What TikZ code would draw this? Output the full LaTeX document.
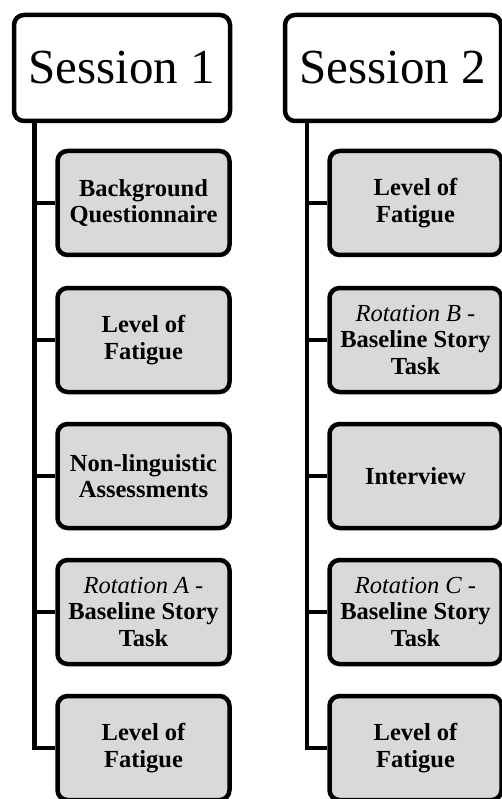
\documentclass[tikz,border=0pt]{standalone}
\usepackage{fontspec}
\setmainfont{Liberation Serif}
\usepackage{tikz}

\begin{document}
\begin{tikzpicture}[x=1pt,y=-1pt,
            head/.style={draw,line width=4.5pt,rounded corners=10pt,fill=white,
             minimum width=216pt,minimum height=106pt,inner sep=0pt,
             font=\fontsize{49}{52}\selectfont},
            task/.style={draw,line width=4.5pt,rounded corners=10pt,fill=boxgray,
             minimum width=172pt,minimum height=104pt,inner sep=0pt,align=center,
             font=\fontsize{24.5}{26.5}\selectfont\bfseries},
            trunk/.style={line width=4.5pt}]
            \definecolor{boxgray}{RGB}{217,217,217}
            \newcommand{\rot}[1]{{\mdseries\itshape Rotation #1} {\mdseries -}}
            \useasboundingbox (0,0) rectangle (501,799);
            \coordinate (t1) at (34.5,0);
            \coordinate (t2) at (307,0);
            \draw (122,68) node[head] (hdr1) {Session 1};
            \draw (393,68) node[head] (hdr2) {Session 2};
            \draw (143.5,203) node[task] (a1) {Background\\Questionnaire};
            \draw (143.5,340) node[task] (a2) {Level of\\Fatigue};
            \draw (143.5,476) node[task] (a3) {Non-linguistic\\Assessments};
            \draw (143.5,612) node[task] (a4) {\rot{A}\\Baseline Story\\Task};
            \draw (143.5,748) node[task] (a5) {Level of\\Fatigue};
            \draw (415.5,203) node[task] (b1) {Level of\\Fatigue};
            \draw (415.5,340) node[task] (b2) {\rot{B}\\Baseline Story\\Task};
            \draw (415.5,476) node[task] (b3) {Interview};
            \draw (415.5,612) node[task] (b4) {\rot{C}\\Baseline Story\\Task};
            \draw (415.5,748) node[task] (b5) {Level of\\Fatigue};
            \draw[trunk] (hdr1.south -| t1) |- (a5.west);
            \draw[trunk] (hdr2.south -| t2) |- (b5.west);
            \foreach \i in {1,...,4} {
              \draw[trunk] (a\i.west -| t1) -- (a\i.west);
              \draw[trunk] (b\i.west -| t2) -- (b\i.west);
            }
            \end{tikzpicture}
\end{document}
